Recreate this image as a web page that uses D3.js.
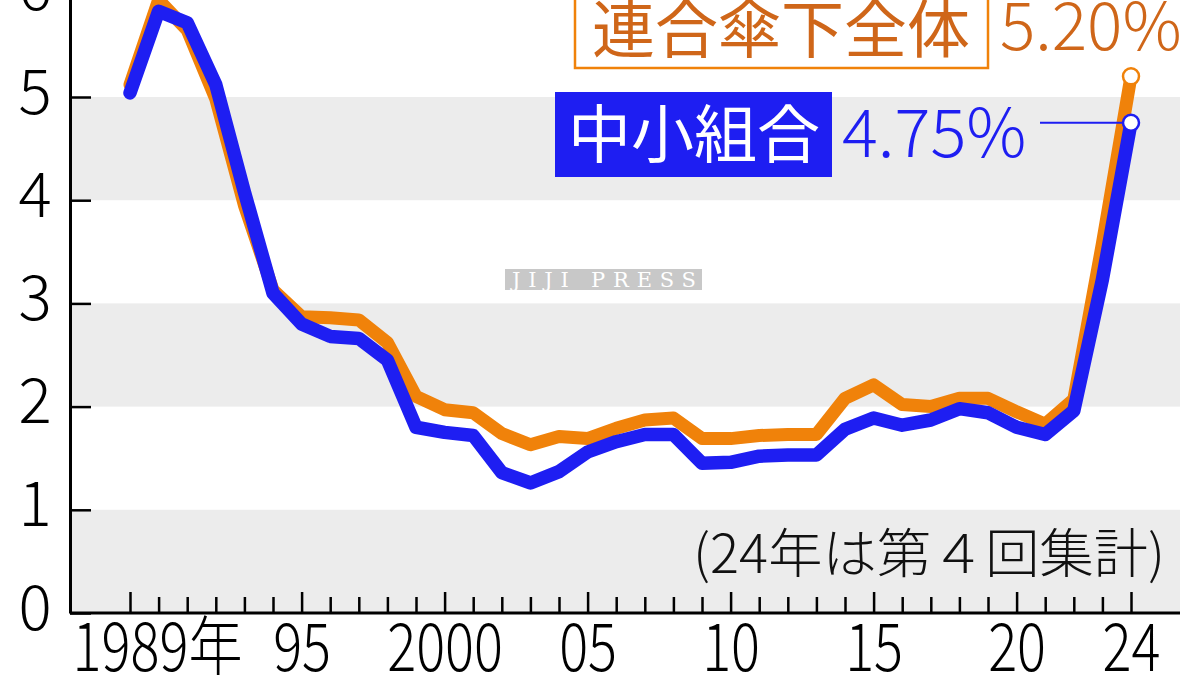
<!DOCTYPE html>
<html><head><meta charset="utf-8">
<script src="https://cdn.jsdelivr.net/npm/d3@7"></script>
<style>html,body{margin:0;padding:0;background:#fff;overflow:hidden}</style>
</head><body><svg id="c" width="1200" height="675"></svg>
<script>
// ---- data ----
const years = [1989,1990,1991,1992,1993,1994,1995,1996,1997,1998,1999,2000,2001,2002,2003,2004,2005,2006,2007,2008,2009,2010,2011,2012,2013,2014,2015,2016,2017,2018,2019,2020,2021,2022,2023,2024];
const rengoAll = [5.12,5.94,5.65,4.98,3.95,3.13,2.87,2.86,2.84,2.62,2.10,1.97,1.94,1.74,1.63,1.71,1.69,1.79,1.87,1.89,1.69,1.69,1.72,1.73,1.73,2.08,2.21,2.02,2.00,2.08,2.08,1.95,1.83,2.07,3.58,5.20];
const smallUnions = [5.04,5.83,5.72,5.12,4.08,3.10,2.80,2.68,2.66,2.45,1.80,1.75,1.72,1.36,1.26,1.37,1.56,1.66,1.73,1.73,1.45,1.46,1.52,1.53,1.53,1.78,1.89,1.82,1.87,1.98,1.94,1.80,1.73,1.96,3.23,4.75];
const seriesNames = ["連合傘下全体","中小組合"];
const lastLabels = ["5.20%","4.75%"];
const yTicks = [0,1,2,3,4,5,6];
const xMajorTicks = [1989,1995,2000,2005,2010,2015,2020,2024];
const xTickLabels = ["1989","95","2000","05","10","15","20","24"];
const yearSuffix = "年";
const noteText = "(24年は第４回集計)";
const watermark = "JIJI PRESS";

// ---- styles ----
const ORANGE = "#f0820a", BLUE = "#1e1ef2", ORANGE_TXT = "#cf6619";
const FONT = "'Noto Sans CJK JP','Noto Sans',sans-serif";
const FW = 300;

const svg = d3.select("#c");
const x = d3.scaleLinear().domain([1989, 2024]).range([130, 1131]);
const y = d3.scaleLinear().domain([0, 6]).range([613, -6.2]);
const plotL = 70, plotR = 1180;

// bands
svg.append("g").selectAll("rect").data([0,2,4]).join("rect")
  .attr("x", plotL).attr("width", plotR - plotL)
  .attr("y", d => y(d + 1)).attr("height", d => y(d) - y(d + 1))
  .attr("fill", "#ececec");

// y axis
const ya = svg.append("g").attr("transform", `translate(${plotL},0)`)
  .call(d3.axisLeft(y).tickValues(yTicks).tickSizeInner(-21).tickSizeOuter(0).tickFormat(d3.format("d")));
ya.select(".domain").attr("stroke", "#000").attr("stroke-width", 3);
ya.selectAll(".tick line").attr("stroke", "#000").attr("stroke-width", 2.5);
ya.selectAll(".tick text").attr("x", -35).attr("dy", null).attr("y", 16)
  .attr("text-anchor", "middle").attr("font-family", FONT).attr("font-weight", FW)
  .attr("font-size", 62).attr("fill", "#000");

// x axis
const xa = svg.append("g").attr("transform", `translate(0,${y(0)})`)
  .call(d3.axisBottom(x).tickValues(years).tickSizeInner(-16).tickSizeOuter(0)
    .tickFormat(d => { const i = xMajorTicks.indexOf(d); return i >= 0 ? xTickLabels[i] : ""; }));
xa.select(".domain").remove();
xa.append("line").attr("x1", plotL).attr("x2", plotR).attr("y1", 0).attr("y2", 0).attr("stroke", "#000").attr("stroke-width", 3);
xa.selectAll(".tick line").attr("stroke", "#000").attr("stroke-width", 2.5)
  .attr("y2", d => xMajorTicks.includes(d) ? -21 : -16);
xa.selectAll(".tick text").attr("y", 58).attr("dy", null)
  .attr("font-family", FONT).attr("font-weight", FW).attr("font-size", 66).attr("fill", "#000")
  .attr("transform", "scale(0.82,1)");
xa.selectAll(".tick text").filter(d => d === 1989).each(function() {
  const t = d3.select(this);
  const w = this.getComputedTextLength();
  t.attr("text-anchor", "start").attr("x", -w / 2);
  t.append("tspan").text(yearSuffix);
});

// lines
const line = d3.line().x((d, i) => x(years[i])).y(d => y(d));
svg.append("path").datum(rengoAll).attr("d", line).attr("fill", "none")
  .attr("stroke", ORANGE).attr("stroke-width", 13).attr("stroke-linejoin", "round").attr("stroke-linecap", "round");
svg.append("path").datum(smallUnions).attr("d", line).attr("fill", "none")
  .attr("stroke", BLUE).attr("stroke-width", 13.5).attr("stroke-linejoin", "round").attr("stroke-linecap", "round");

// leader line + end markers
const last = years.length - 1;
svg.append("line").attr("x1", 1040).attr("x2", x(years[last])).attr("y1", y(smallUnions[last])).attr("y2", y(smallUnions[last]))
  .attr("stroke", BLUE).attr("stroke-width", 2);
[[rengoAll, ORANGE], [smallUnions, BLUE]].forEach(([s, c]) => {
  svg.append("circle").attr("cx", x(years[last])).attr("cy", y(s[last])).attr("r", 8)
    .attr("fill", "#fff").attr("stroke", c).attr("stroke-width", 2.5);
});

// legend
svg.append("rect").attr("x", 575).attr("y", -10).attr("width", 413).attr("height", 78)
  .attr("fill", "#fff").attr("stroke", ORANGE).attr("stroke-width", 2.5);
svg.append("text").attr("x", 781).attr("y", 52).attr("text-anchor", "middle")
  .attr("font-family", FONT).attr("font-size", 63).attr("fill", ORANGE_TXT).text(seriesNames[0]);
svg.append("text").attr("x", 1000).attr("y", 50)
  .attr("font-family", FONT).attr("font-weight", FW).attr("font-size", 66).attr("fill", ORANGE_TXT).text(lastLabels[0]);

svg.append("rect").attr("x", 555).attr("y", 92).attr("width", 277).attr("height", 85).attr("fill", BLUE);
svg.append("text").attr("x", 694).attr("y", 157).attr("text-anchor", "middle")
  .attr("font-family", FONT).attr("font-size", 63).attr("fill", "#fff").text(seriesNames[1]);
svg.append("text").attr("x", 842).attr("y", 157)
  .attr("font-family", FONT).attr("font-weight", FW).attr("font-size", 67).attr("fill", BLUE).text(lastLabels[1]);

// note
svg.append("text").attr("x", 1165).attr("y", 573).attr("text-anchor", "end")
  .attr("font-family", FONT).attr("font-size", 53).attr("font-weight", FW).attr("fill", "#111")
  .attr("textLength", 472).attr("lengthAdjust", "spacingAndGlyphs").text(noteText);

// watermark
svg.append("rect").attr("x", 505).attr("y", 269).attr("width", 197).attr("height", 21).attr("fill", "#c8c8c8");
svg.append("text").attr("x", 512).attr("y", 287)
  .attr("font-family", "'DejaVu Serif','Liberation Serif',serif").attr("font-size", 21)
  .attr("textLength", 184).attr("lengthAdjust", "spacing")
  .attr("fill", "#fff").text(watermark);
</script></body></html>
